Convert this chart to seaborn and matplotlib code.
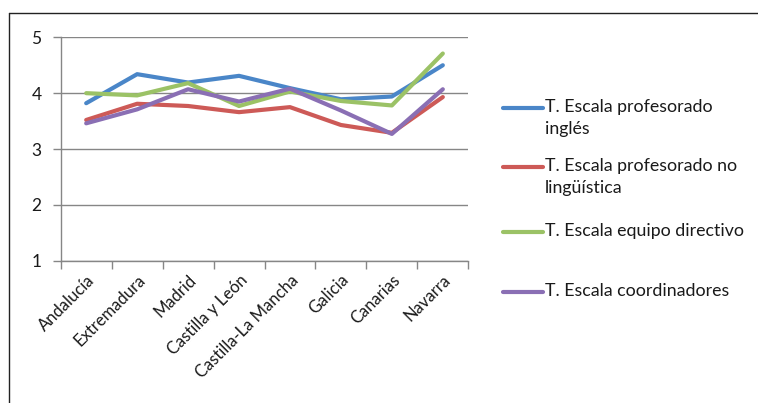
import numpy as np
import pandas as pd
import seaborn as sns
import matplotlib.pyplot as plt
from matplotlib.lines import Line2D

regiones = ["Andalucía", "Extremadura", "Madrid", "Castilla y León",
            "Castilla-La Mancha", "Galicia", "Canarias", "Navarra"]

profesorado_ingles = [3.82, 4.34, 4.19, 4.31, 4.09, 3.89, 3.94, 4.50]
profesorado_no_ling = [3.52, 3.81, 3.77, 3.66, 3.75, 3.43, 3.29, 3.93]
equipo_directivo = [4.00, 3.96, 4.18, 3.77, 4.03, 3.86, 3.78, 4.71]
coordinadores = [3.46, 3.71, 4.07, 3.85, 4.08, 3.69, 3.27, 4.07]

series_names = ["T. Escala profesorado\ninglés",
                "T. Escala profesorado no\nlingüística",
                "T. Escala equipo directivo",
                "T. Escala coordinadores"]
series_values = [profesorado_ingles, profesorado_no_ling,
                 equipo_directivo, coordinadores]
colors = ["#4A86C8", "#CD5A57", "#9BC266", "#8A6FB4"]

y_ticks = [1, 2, 3, 4, 5]

df = pd.DataFrame([
    {"region": r, "valor": v, "serie": name}
    for name, vals in zip(series_names, series_values)
    for r, v in zip(regiones, vals)
])

sns.set_theme(style="white")
plt.rcParams["font.family"] = ["Lato", "DejaVu Sans"]

fig = plt.figure(figsize=(7.58, 4.03), dpi=100)
ax = fig.add_axes([0.0801, 0.3531, 0.5377, 0.5543])

sns.lineplot(data=df, x="region", y="valor", hue="serie",
             palette=colors, linewidth=3.0, legend=False, ax=ax,
             sort=False)

ax.set_xlim(-0.5, len(regiones) - 0.5)
ax.set_ylim(1, 5)
ax.set_yticks(y_ticks)
ax.set_yticklabels([str(t) for t in y_ticks], fontsize=12.5, color="#1a1a1a")
ax.set_xticks(range(len(regiones)))
ax.set_xticklabels(regiones, rotation=45, ha="right",
                   rotation_mode="anchor", fontsize=12, color="#1a1a1a")
ax.set_xticks(np.arange(-0.5, len(regiones), 1), minor=True)
ax.tick_params(axis="x", which="major", length=0, pad=8)
ax.tick_params(axis="x", which="minor", length=5.5, width=1, color="#868686",
               direction="out", bottom=True)
ax.tick_params(axis="y", length=5.8, width=1, color="#868686",
               direction="out", left=True, pad=8)
ax.set_xlabel("")
ax.set_ylabel("")
ax.yaxis.grid(True, color="#868686", linewidth=1.0)
ax.xaxis.grid(False)
for side in ["top", "right"]:
    ax.spines[side].set_visible(False)
for side in ["left", "bottom"]:
    ax.spines[side].set_color("#868686")
    ax.spines[side].set_linewidth(1.0)

# legend drawn as separate keys to keep each key on the label's first line
W, H = 758, 403
legend_rows = [108, 167, 232, 292]
for name, col, yp in zip(series_names, colors, legend_rows):
    yf = 1 - yp / H
    fig.add_artist(Line2D([503 / W, 543 / W], [yf, yf], color=col,
                          linewidth=3.0, solid_capstyle="round"))
    fig.text(545 / W, 1 - (yp - 9) / H, name, fontsize=12.8, va="top",
             ha="left", color="#1a1a1a", linespacing=1.45)

# chart-area frame
fig.add_artist(Line2D([9 / W, 1], [1 - 12.5 / H, 1 - 12.5 / H],
                      color="#222222", linewidth=1.0))
fig.add_artist(Line2D([9 / W, 9 / W], [0, 1 - 12.5 / H],
                      color="#222222", linewidth=1.0))

fig.savefig("out.png", dpi=100, facecolor="white")
